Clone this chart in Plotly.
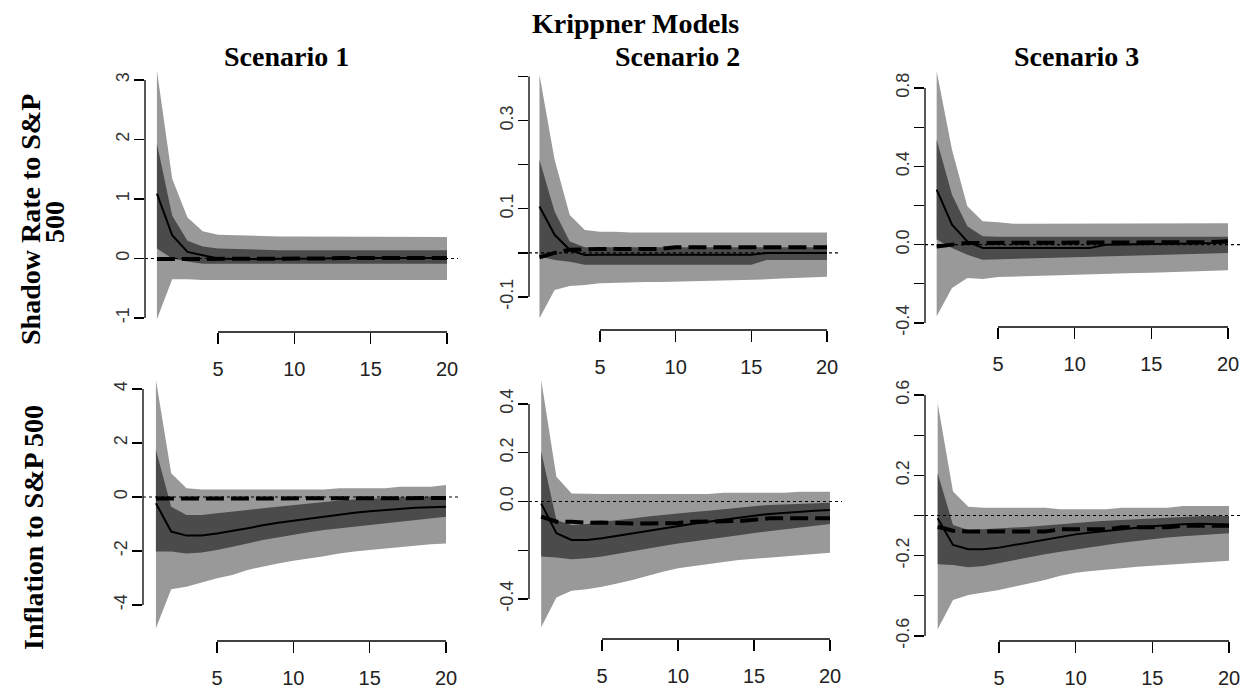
import plotly.graph_objects as go

# ---------------- data (horizons 1..20) ----------------
horizon = list(range(1, 21))

# Shadow Rate to S&P 500 - Scenario 1
sr1_outer_hi = [3.16, 1.34, 0.69, 0.46, 0.40, 0.39, 0.39, 0.37, 0.37, 0.37, 0.37, 0.37, 0.37, 0.37, 0.37, 0.37, 0.37, 0.37, 0.37, 0.36]
sr1_outer_lo = [-1.02, -0.35, -0.35, -0.36, -0.37, -0.37, -0.37, -0.37, -0.37, -0.37, -0.37, -0.37, -0.37, -0.37, -0.37, -0.37, -0.36, -0.36, -0.36, -0.36]
sr1_inner_hi = [1.93, 0.72, 0.30, 0.20, 0.17, 0.16, 0.16, 0.15, 0.14, 0.14, 0.14, 0.14, 0.14, 0.14, 0.14, 0.14, 0.14, 0.14, 0.14, 0.14]
sr1_inner_lo = [0.17, 0.00, -0.05, -0.09, -0.10, -0.10, -0.10, -0.10, -0.10, -0.10, -0.10, -0.10, -0.10, -0.10, -0.10, -0.10, -0.09, -0.09, -0.09, -0.09]
sr1_median = [1.09, 0.39, 0.11, 0.05, 0.00, -0.01, -0.01, -0.01, -0.01, -0.01, -0.01, 0.00, 0.01, 0.01, 0.01, 0.01, 0.01, 0.01, 0.01, 0.01]
sr1_alt = [-0.01, -0.01, -0.01, 0.00, 0.00, 0.00, 0.00, 0.00, 0.00, 0.00, 0.00, 0.00, 0.01, 0.01, 0.01, 0.01, 0.01, 0.01, 0.01, 0.01]

# Shadow Rate to S&P 500 - Scenario 2
sr2_outer_hi = [0.404, 0.211, 0.086, 0.052, 0.048, 0.048, 0.046, 0.046, 0.046, 0.046, 0.046, 0.046, 0.046, 0.046, 0.046, 0.046, 0.046, 0.046, 0.046, 0.046]
sr2_outer_lo = [-0.148, -0.084, -0.075, -0.073, -0.069, -0.068, -0.067, -0.066, -0.066, -0.065, -0.064, -0.063, -0.062, -0.062, -0.061, -0.060, -0.058, -0.056, -0.055, -0.054]
sr2_inner_hi = [0.211, 0.094, 0.026, 0.013, 0.013, 0.013, 0.013, 0.013, 0.013, 0.013, 0.013, 0.013, 0.013, 0.013, 0.013, 0.013, 0.013, 0.013, 0.013, 0.013]
sr2_inner_lo = [-0.008, -0.016, -0.020, -0.027, -0.027, -0.027, -0.027, -0.027, -0.027, -0.027, -0.027, -0.027, -0.027, -0.027, -0.027, -0.016, -0.016, -0.016, -0.016, -0.016]
sr2_median = [0.105, 0.041, 0.007, -0.005, -0.004, -0.004, -0.004, -0.004, -0.004, -0.004, -0.004, -0.004, -0.004, -0.004, -0.004, 0.000, 0.000, 0.000, 0.000, 0.000]
sr2_alt = [-0.010, 0.000, 0.007, 0.009, 0.009, 0.009, 0.009, 0.009, 0.009, 0.013, 0.013, 0.013, 0.013, 0.013, 0.013, 0.013, 0.013, 0.013, 0.013, 0.013]

# Shadow Rate to S&P 500 - Scenario 3
sr3_outer_hi = [0.885, 0.485, 0.196, 0.119, 0.114, 0.107, 0.107, 0.107, 0.107, 0.107, 0.107, 0.110, 0.110, 0.110, 0.110, 0.110, 0.110, 0.110, 0.110, 0.110]
sr3_outer_lo = [-0.366, -0.221, -0.170, -0.175, -0.165, -0.162, -0.160, -0.158, -0.156, -0.153, -0.151, -0.149, -0.147, -0.145, -0.143, -0.140, -0.138, -0.136, -0.134, -0.131]
sr3_inner_hi = [0.536, 0.255, 0.094, 0.043, 0.040, 0.040, 0.040, 0.040, 0.040, 0.040, 0.040, 0.040, 0.040, 0.040, 0.040, 0.040, 0.040, 0.040, 0.040, 0.040]
sr3_inner_lo = [0.026, -0.017, -0.051, -0.077, -0.073, -0.072, -0.070, -0.068, -0.065, -0.062, -0.060, -0.058, -0.056, -0.055, -0.053, -0.051, -0.049, -0.047, -0.045, -0.043]
sr3_median = [0.281, 0.102, 0.017, -0.017, -0.017, -0.017, -0.017, -0.017, -0.017, -0.017, -0.017, 0.000, 0.000, 0.002, 0.003, 0.004, 0.005, 0.006, 0.008, 0.012]
sr3_alt = [-0.009, 0.000, 0.009, 0.009, 0.009, 0.009, 0.009, 0.009, 0.009, 0.009, 0.009, 0.013, 0.013, 0.013, 0.013, 0.013, 0.013, 0.013, 0.013, 0.017]

# Inflation to S&P 500 - Scenario 1
inf1_outer_hi = [4.33, 0.88, 0.32, 0.28, 0.28, 0.28, 0.28, 0.28, 0.28, 0.28, 0.28, 0.28, 0.32, 0.32, 0.32, 0.32, 0.38, 0.38, 0.38, 0.44]
inf1_outer_lo = [-4.86, -3.42, -3.32, -3.17, -3.01, -2.89, -2.70, -2.58, -2.46, -2.36, -2.27, -2.19, -2.09, -2.02, -1.96, -1.90, -1.84, -1.80, -1.75, -1.72]
inf1_inner_hi = [1.74, -0.36, -0.67, -0.67, -0.60, -0.55, -0.48, -0.42, -0.36, -0.30, -0.24, -0.17, -0.13, -0.09, -0.06, -0.03, -0.01, 0.00, 0.02, 0.04]
inf1_inner_lo = [-2.02, -2.02, -2.09, -2.06, -1.96, -1.85, -1.72, -1.59, -1.50, -1.41, -1.31, -1.22, -1.16, -1.10, -1.04, -0.98, -0.91, -0.85, -0.79, -0.73]
inf1_median = [-0.23, -1.28, -1.43, -1.43, -1.35, -1.26, -1.16, -1.05, -0.95, -0.88, -0.80, -0.73, -0.65, -0.58, -0.53, -0.48, -0.44, -0.40, -0.38, -0.36]
inf1_alt = [-0.06, -0.06, -0.06, -0.06, -0.06, -0.06, -0.06, -0.06, -0.06, -0.06, -0.06, -0.06, -0.05, -0.05, -0.05, -0.05, -0.04, -0.04, -0.04, -0.04]

# Inflation to S&P 500 - Scenario 2
inf2_outer_hi = [0.498, 0.102, 0.033, 0.031, 0.031, 0.031, 0.031, 0.031, 0.031, 0.031, 0.031, 0.031, 0.036, 0.036, 0.036, 0.036, 0.036, 0.040, 0.040, 0.040]
inf2_outer_lo = [-0.516, -0.394, -0.366, -0.360, -0.350, -0.336, -0.322, -0.306, -0.288, -0.274, -0.267, -0.256, -0.248, -0.240, -0.233, -0.229, -0.224, -0.220, -0.215, -0.210]
inf2_inner_hi = [0.205, -0.076, -0.096, -0.092, -0.083, -0.078, -0.070, -0.062, -0.055, -0.049, -0.043, -0.038, -0.031, -0.024, -0.019, -0.014, -0.011, -0.008, -0.006, -0.005]
inf2_inner_lo = [-0.226, -0.230, -0.237, -0.233, -0.226, -0.216, -0.206, -0.194, -0.183, -0.172, -0.163, -0.155, -0.146, -0.138, -0.129, -0.120, -0.113, -0.106, -0.099, -0.092]
inf2_median = [-0.008, -0.130, -0.158, -0.158, -0.151, -0.141, -0.130, -0.119, -0.109, -0.099, -0.091, -0.083, -0.074, -0.065, -0.058, -0.051, -0.046, -0.042, -0.038, -0.035]
inf2_alt = [-0.062, -0.083, -0.083, -0.087, -0.086, -0.090, -0.090, -0.090, -0.090, -0.088, -0.083, -0.083, -0.083, -0.080, -0.075, -0.069, -0.069, -0.069, -0.069, -0.069]

# Inflation to S&P 500 - Scenario 3
inf3_outer_hi = [0.559, 0.119, 0.044, 0.039, 0.039, 0.039, 0.039, 0.039, 0.031, 0.031, 0.031, 0.031, 0.039, 0.039, 0.039, 0.039, 0.047, 0.047, 0.047, 0.047]
inf3_outer_lo = [-0.567, -0.421, -0.396, -0.384, -0.371, -0.354, -0.338, -0.321, -0.300, -0.285, -0.276, -0.268, -0.263, -0.255, -0.247, -0.242, -0.238, -0.235, -0.230, -0.225]
inf3_inner_hi = [0.210, -0.047, -0.072, -0.069, -0.064, -0.060, -0.056, -0.049, -0.042, -0.036, -0.031, -0.026, -0.022, -0.018, -0.014, -0.010, -0.006, -0.004, -0.003, -0.002]
inf3_inner_lo = [-0.243, -0.247, -0.258, -0.251, -0.238, -0.222, -0.208, -0.193, -0.180, -0.168, -0.157, -0.147, -0.136, -0.125, -0.117, -0.109, -0.103, -0.097, -0.093, -0.089]
inf3_median = [-0.014, -0.147, -0.168, -0.168, -0.160, -0.147, -0.134, -0.119, -0.105, -0.094, -0.085, -0.076, -0.068, -0.061, -0.054, -0.047, -0.043, -0.041, -0.043, -0.045]
inf3_alt = [-0.056, -0.076, -0.080, -0.080, -0.080, -0.080, -0.080, -0.080, -0.069, -0.069, -0.069, -0.069, -0.059, -0.059, -0.059, -0.059, -0.051, -0.051, -0.051, -0.051]

# tick values / labels
x_tickvals = [5, 10, 15, 20]
x_ticktext = ["5", "10", "15", "20"]

sr1_yticks = [-1, 0, 1, 2, 3]
sr1_ylabels = ["-1", "0", "1", "2", "3"]
sr2_yticks = [-0.1, 0.0, 0.1, 0.2, 0.3, 0.4]
sr2_ylabels = ["-0.1", "", "0.1", "", "0.3", ""]
sr3_yticks = [-0.4, -0.2, 0.0, 0.2, 0.4, 0.6, 0.8]
sr3_ylabels = ["-0.4", "", "0.0", "", "0.4", "", "0.8"]
inf1_yticks = [-4, -2, 0, 2, 4]
inf1_ylabels = ["-4", "-2", "0", "2", "4"]
inf2_yticks = [-0.4, -0.2, 0.0, 0.2, 0.4]
inf2_ylabels = ["-0.4", "", "0.0", "0.2", "0.4"]
inf3_yticks = [-0.6, -0.4, -0.2, 0.0, 0.2, 0.4, 0.6]
inf3_ylabels = ["-0.6", "", "-0.2", "", "0.2", "", "0.6"]

main_title = "Krippner Models"
col_titles = ["Scenario 1", "Scenario 2", "Scenario 3"]
row_title_1a = "Shadow Rate to S&P"
row_title_1b = "500"
row_title_2 = "Inflation to S&P 500"

# ---------------- layout geometry (pixels in a 1248 x 688 canvas) ----------------
W, H = 1248, 688
LIGHT = "#999999"
DARK = "#4b4b4b"

panels = [
    dict(data=(sr1_outer_hi, sr1_outer_lo, sr1_inner_hi, sr1_inner_lo, sr1_median, sr1_alt),
         yt=sr1_yticks, yl=sr1_ylabels,
         xdom=(145, 458), xcal=((5, 218), (20, 447)), ydom=(60, 332), ycal=((3, 80), (-1, 318))),
    dict(data=(sr2_outer_hi, sr2_outer_lo, sr2_inner_hi, sr2_inner_lo, sr2_median, sr2_alt),
         yt=sr2_yticks, yl=sr2_ylabels,
         xdom=(529, 838), xcal=((5, 600), (20, 827)), ydom=(63, 330), ycal=((0.4, 76.5), (-0.1, 297))),
    dict(data=(sr3_outer_hi, sr3_outer_lo, sr3_inner_hi, sr3_inner_lo, sr3_median, sr3_alt),
         yt=sr3_yticks, yl=sr3_ylabels,
         xdom=(925, 1240), xcal=((5, 998), (20, 1228)), ydom=(62, 327), ycal=((0.8, 88), (-0.4, 323))),
    dict(data=(inf1_outer_hi, inf1_outer_lo, inf1_inner_hi, inf1_inner_lo, inf1_median, inf1_alt),
         yt=inf1_yticks, yl=inf1_ylabels,
         xdom=(143, 458), xcal=((5, 217), (20, 446)), ydom=(370, 641), ycal=((4, 389), (-4, 605))),
    dict(data=(inf2_outer_hi, inf2_outer_lo, inf2_inner_hi, inf2_inner_lo, inf2_median, inf2_alt),
         yt=inf2_yticks, yl=inf2_ylabels,
         xdom=(529, 842), xcal=((5, 602), (20, 830)), ydom=(370, 639), ycal=((0.4, 404), (-0.4, 599))),
    dict(data=(inf3_outer_hi, inf3_outer_lo, inf3_inner_hi, inf3_inner_lo, inf3_median, inf3_alt),
         yt=inf3_yticks, yl=inf3_ylabels,
         xdom=(925, 1240), xcal=((5, 999), (20, 1229)), ydom=(393, 641), ycal=((0.6, 395), (-0.6, 636))),
]

fig = go.Figure()
layout = dict(
    width=W, height=H,
    margin=dict(l=0, r=0, t=0, b=0, pad=0, autoexpand=False),
    paper_bgcolor="white", plot_bgcolor="white",
    showlegend=False,
)
shapes = []
annotations = []

XFONT = dict(family="Liberation Sans Narrow, Arial Narrow, Liberation Sans, Arial", size=20, color="#222222")
YFONT = dict(family="Liberation Sans, Arial", size=18, color="#333333")

for i, p in enumerate(panels, start=1):
    sfx = "" if i == 1 else str(i)
    xa, ya = "x" + sfx, "y" + sfx
    ohi, olo, ihi, ilo, med, alt = p["data"]
    xs = horizon + horizon[::-1]
    fig.add_trace(go.Scatter(x=xs, y=ohi + olo[::-1], fill="toself", fillcolor=LIGHT,
                             line=dict(width=0), mode="lines", xaxis=xa, yaxis=ya, hoverinfo="skip"))
    fig.add_trace(go.Scatter(x=xs, y=ihi + ilo[::-1], fill="toself", fillcolor=DARK,
                             line=dict(width=0), mode="lines", xaxis=xa, yaxis=ya, hoverinfo="skip"))
    fig.add_trace(go.Scatter(x=horizon, y=med, mode="lines", line=dict(color="black", width=2),
                             xaxis=xa, yaxis=ya))
    fig.add_trace(go.Scatter(x=horizon, y=alt, mode="lines",
                             line=dict(color="black", width=4, dash="18px,7px"),
                             xaxis=xa, yaxis=ya))

    # axis calibration from pixel positions
    (xv1, xp1), (xv2, xp2) = p["xcal"]
    sx = (xp2 - xp1) / (xv2 - xv1)
    x0, x1 = p["xdom"]
    xr = [xv1 + (x0 - xp1) / sx, xv1 + (x1 - xp1) / sx]
    (yv1, yp1), (yv2, yp2) = p["ycal"]
    sy = (yp2 - yp1) / (yv1 - yv2)
    yt_px, yb_px = p["ydom"]
    yr = [yv1 - (yb_px - yp1) / sy, yv1 - (yt_px - yp1) / sy]

    layout["xaxis" + sfx] = dict(
        domain=[x0 / W, x1 / W], range=xr, anchor=ya, automargin=False,
        showgrid=False, zeroline=False, showline=False,
        tickvals=x_tickvals, ticktext=x_ticktext, ticks="outside", ticklen=11,
        tickwidth=1.3, tickcolor="black", tickfont=XFONT, ticklabelstandoff=8,
    )
    layout["yaxis" + sfx] = dict(
        domain=[1 - yb_px / H, 1 - yt_px / H], range=yr, anchor=xa, automargin=False,
        showgrid=False, zeroline=False, showline=False,
        tickvals=p["yt"], ticktext=p["yl"], ticks="outside", ticklen=10,
        tickwidth=1.3, tickcolor="black", tickfont=YFONT, tickangle=-90, ticklabelstandoff=-2,
    )
    # zero reference line (dotted)
    shapes.append(dict(type="line", xref=xa + " domain", x0=0, x1=1, yref=ya, y0=0, y1=0,
                       line=dict(color="black", width=1.2, dash="3px,3px")))
    # R-style detached axis lines
    shapes.append(dict(type="line", xref=xa, x0=x_tickvals[0], x1=x_tickvals[-1],
                       yref=ya + " domain", y0=0, y1=0, line=dict(color="black", width=1.3)))
    shapes.append(dict(type="line", xref=xa + " domain", x0=0, x1=0,
                       yref=ya, y0=p["yt"][0], y1=p["yt"][-1], line=dict(color="black", width=1.3)))

TFONT = dict(family="Liberation Serif, Times New Roman, serif", size=28, color="black")


def ann(text, px, py, angle=0):
    annotations.append(dict(text="<b>" + text + "</b>", x=px / W, y=1 - py / H, xref="paper", yref="paper",
                            xanchor="center", yanchor="middle", showarrow=False, font=TFONT,
                            textangle=angle))


ann(main_title, 635, 23.5)
ann(col_titles[0], 286.5, 56)
ann(col_titles[1], 677, 56)
ann(col_titles[2], 1076, 56)
ann(row_title_1a, 30, 220, -90)
ann(row_title_1b, 54, 222, -90)
ann(row_title_2, 33, 528, -90)

layout["shapes"] = shapes
layout["annotations"] = annotations
fig.update_layout(**layout)
fig.write_html("out.html",
               config={"displayModeBar": False, "staticPlot": True},
               post_script="document.body.style.margin='0';document.body.style.overflow='hidden';")
